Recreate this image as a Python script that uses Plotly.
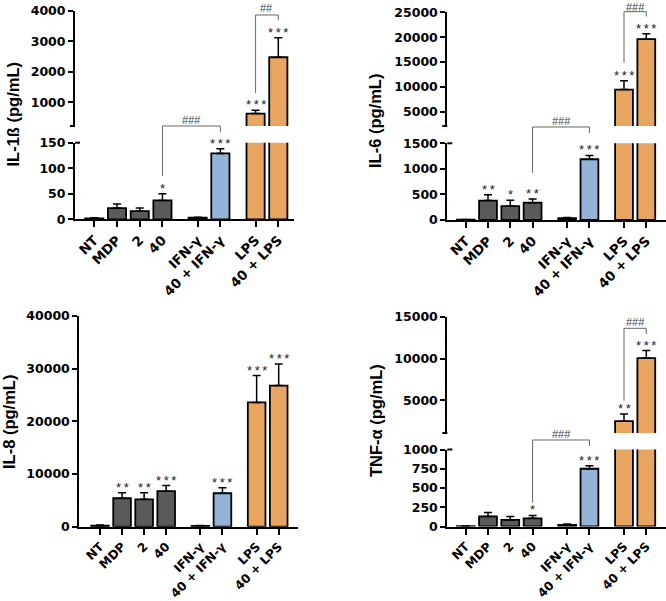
import plotly.graph_objects as go

# ---------------- data ----------------
categories = ["NT", "MDP", "2", "40", "IFN-γ", "40 + IFN-γ", "LPS", "40 + LPS"]
groups = [0, 0, 0, 0, 1, 1, 2, 2]

il1b_mean = [2, 22, 16, 37, 3, 129, 630, 2480]
il1b_err = [1, 8, 6, 13, 1, 9, 110, 640]
il1b_sig = ["", "", "", "*", "", "***", "***", "***"]
il1b_brackets = [(3, 5, "###"), (6, 7, "##")]
il1b_ticks_low = [0, 50, 100, 150]
il1b_ticks_high = [1000, 2000, 3000, 4000]

il6_mean = [5, 380, 273, 338, 35, 1188, 9450, 19600]
il6_err = [3, 115, 115, 72, 15, 75, 1800, 1100]
il6_sig = ["", "**", "*", "**", "", "***", "***", "***"]
il6_brackets = [(3, 5, "###"), (6, 7, "###")]
il6_ticks_low = [0, 500, 1000, 1500]
il6_ticks_high = [5000, 10000, 15000, 20000, 25000]

il8_mean = [200, 5400, 5200, 6750, 150, 6350, 23600, 26800]
il8_err = [100, 1050, 1250, 1050, 60, 1050, 5100, 4100]
il8_sig = ["", "**", "**", "***", "", "***", "***", "***"]
il8_brackets = []
il8_ticks = [0, 10000, 20000, 30000, 40000]

tnf_mean = [3, 131, 85, 106, 20, 750, 2500, 10050]
tnf_err = [2, 50, 45, 38, 12, 38, 850, 900]
tnf_sig = ["", "", "", "*", "", "***", "**", "***"]
tnf_brackets = [(3, 5, "###"), (6, 7, "###")]
tnf_ticks_low = [0, 250, 500, 750, 1000]
tnf_ticks_high = [5000, 10000, 15000]

# ---------------- styling / layout ----------------
W, H = 666, 601
group_colors = ["#5a5a5a", "#95b3d7", "#e8a55f"]
bar_colors = [group_colors[g] for g in groups]
xpos = [i + 0.55 * g for i, g in enumerate(groups)]

TICKFONT = dict(family="DejaVu Sans", size=12.5, color="black", weight="bold")
TITLEFONT = dict(family="Liberation Sans, Arial", size=16.5, color="black", weight="bold")
STARFONT = dict(family="Liberation Sans, Arial", size=13, color="#222222")
HASHFONT = dict(family="Liberation Sans, Arial", size=11, color="#444444")


def xtickfont(size):
    return dict(family="DejaVu Sans", size=size, color="black", weight="bold")


def px_x(p):
    return p / W


def px_y(p):
    return 1 - p / H


panels = [
    dict(title="IL-1ß (pg/mL)", mean=il1b_mean, err=il1b_err, sig=il1b_sig, brackets=il1b_brackets,
         xpx=(75, 294), first_px=94.3, last_px=278.3, xfs=13.3,
         segs=[dict(ref=((0, 219.3), (150, 142.7)), dom=(219.3, 142.7), ticks=il1b_ticks_low),
               dict(ref=((1000, 102.3), (4000, 11)), dom=(126, 11), ticks=il1b_ticks_high)],
         title_px=(12.5, 115), bracket_px=[(126, 176, 132), (15, 93, 20)]),
    dict(title="IL-6 (pg/mL)", mean=il6_mean, err=il6_err, sig=il6_sig, brackets=il6_brackets,
         xpx=(447.3, 666), first_px=465.7, last_px=646.3, xfs=13.3,
         segs=[dict(ref=((0, 220), (1500, 143.3)), dom=(220, 143.3), ticks=il6_ticks_low),
               dict(ref=((5000, 111.7), (25000, 12.3)), dom=(126, 12.3), ticks=il6_ticks_high)],
         title_px=(375, 121), bracket_px=[(127, 173, 133), (11.7, 63, 16.5)]),
    dict(title="IL-8 (pg/mL)", mean=il8_mean, err=il8_err, sig=il8_sig, brackets=il8_brackets,
         xpx=(79.3, 298.3), first_px=100, last_px=278.7, xfs=12.2,
         segs=[dict(ref=((0, 526.7), (40000, 316)), dom=(526.7, 316), ticks=il8_ticks)],
         title_px=(9, 422), bracket_px=[]),
    dict(title="TNF-α (pg/mL)", mean=tnf_mean, err=tnf_err, sig=tnf_sig, brackets=tnf_brackets,
         xpx=(447.3, 666), first_px=465.7, last_px=646.3, xfs=12.2,
         segs=[dict(ref=((0, 526.5), (1000, 449.5)), dom=(526.5, 449.5), ticks=tnf_ticks_low),
               dict(ref=((5000, 400.3), (15000, 316.7)), dom=(433, 316.7), ticks=tnf_ticks_high)],
         title_px=(376, 421), bracket_px=[(440, 502.7, 446), (328.3, 400.7, 334)]),
]

fig = go.Figure()
layout = dict(width=W, height=H, margin=dict(l=0, r=0, t=0, b=0, pad=0),
              paper_bgcolor="white", plot_bgcolor="white", showlegend=False,
              template="none")
shapes, annotations = [], []

ycount = 0
for pi, P in enumerate(panels):
    xn = "" if pi == 0 else str(pi + 1)
    xid = "x" + xn
    scale = (P["last_px"] - P["first_px"]) / (xpos[-1] - xpos[0])
    r0 = xpos[0] - (P["first_px"] - P["xpx"][0]) / scale
    r1 = xpos[-1] + (P["xpx"][1] - P["last_px"]) / scale

    def xp_to_px(v, r0=r0, scale=scale, P=P):
        return P["xpx"][0] + (v - r0) * scale

    seg_ids = []
    seg_ranges = []
    for si, S in enumerate(P["segs"]):
        ycount += 1
        yn = "" if ycount == 1 else str(ycount)
        yid = "y" + yn
        seg_ids.append(yid)
        (v1, p1), (v2, p2) = S["ref"]
        k = (v2 - v1) / (p2 - p1)  # value per px (negative)
        lo = v1 + (S["dom"][0] - p1) * k
        hi = v1 + (S["dom"][1] - p1) * k
        seg_ranges.append((lo, hi))
        layout["yaxis" + yn] = dict(
            domain=[px_y(S["dom"][0]), px_y(S["dom"][1])], range=[lo, hi],
            anchor=xid, tickmode="array", tickvals=S["ticks"],
            ticktext=[str(v) for v in S["ticks"]], ticks="outside",
            ticklen=5, tickwidth=2, tickcolor="black", showline=True, linewidth=2,
            linecolor="black", showgrid=False, zeroline=False, tickfont=TICKFONT,
            automargin=False, fixedrange=True)
        fig.add_trace(go.Bar(
            x=xpos, y=P["mean"], xaxis=xid, yaxis=yid, width=0.8,
            marker=dict(color=bar_colors, line=dict(color="black", width=1.8)),
            error_y=dict(type="data", symmetric=False, array=P["err"],
                         arrayminus=[0] * len(P["err"]), color="black",
                         thickness=1.5, width=4),
            hoverinfo="skip"))
        ax = P["xpx"][0]
        if len(P["segs"]) > 1:
            if si == 0:
                shapes.append(dict(type="line", xref="paper", yref="paper",
                                   x0=px_x(ax), x1=px_x(ax + 5),
                                   y0=px_y(S["dom"][1]), y1=px_y(S["dom"][1]),
                                   line=dict(color="black", width=2)))
            else:
                shapes.append(dict(type="line", xref="paper", yref="paper",
                                   x0=px_x(ax - 5), x1=px_x(ax),
                                   y0=px_y(S["dom"][0]), y1=px_y(S["dom"][0]),
                                   line=dict(color="black", width=2)))

    layout["xaxis" + xn] = dict(
        domain=[px_x(P["xpx"][0]), px_x(P["xpx"][1])], range=[r0, r1],
        anchor=seg_ids[0], tickmode="array", tickvals=xpos, ticktext=categories,
        tickangle=-45, ticks="outside", ticklen=6, tickwidth=2, tickcolor="black",
        showline=True, linewidth=2, linecolor="black", showgrid=False,
        zeroline=False, tickfont=xtickfont(P["xfs"]), automargin=False, fixedrange=True)

    # significance stars
    for i, s in enumerate(P["sig"]):
        if not s:
            continue
        top = P["mean"][i] + P["err"][i]
        yid = seg_ids[0]
        if len(seg_ids) > 1 and top > seg_ranges[0][1]:
            yid = seg_ids[1]
        annotations.append(dict(
            x=xpos[i], y=top, xref=xid, yref=yid, text="\u2009".join(s),
            showarrow=False, yanchor="bottom", xanchor="center", yshift=-4,
            font=STARFONT))

    # comparison brackets
    for (i, j, lab), (ytop, ylb, yrb) in zip(P["brackets"], P["bracket_px"]):
        xa, xb = px_x(xp_to_px(xpos[i])), px_x(xp_to_px(xpos[j]))
        path = "M {:.5f},{:.5f} L {:.5f},{:.5f} L {:.5f},{:.5f} L {:.5f},{:.5f}".format(
            xa, px_y(ylb), xa, px_y(ytop), xb, px_y(ytop), xb, px_y(yrb))
        shapes.append(dict(type="path", path=path, xref="paper", yref="paper",
                           line=dict(color="#666666", width=1)))
        annotations.append(dict(
            x=(xa + xb) / 2, y=px_y(max(ytop - 6.5, 7.5)), xref="paper", yref="paper",
            text=lab, showarrow=False, yanchor="middle", xanchor="center",
            borderpad=0, font=HASHFONT))

    # y title
    annotations.append(dict(
        x=px_x(P["title_px"][0]), y=px_y(P["title_px"][1]), xref="paper", yref="paper",
        text=P["title"], textangle=-90, showarrow=False, xanchor="center",
        yanchor="middle", font=TITLEFONT))

layout["shapes"] = shapes
layout["annotations"] = annotations
fig.update_layout(**layout)
fig.write_html("out.html", config={"displayModeBar": False},
               post_script="document.body.style.margin='0';document.body.style.overflow='hidden';")
